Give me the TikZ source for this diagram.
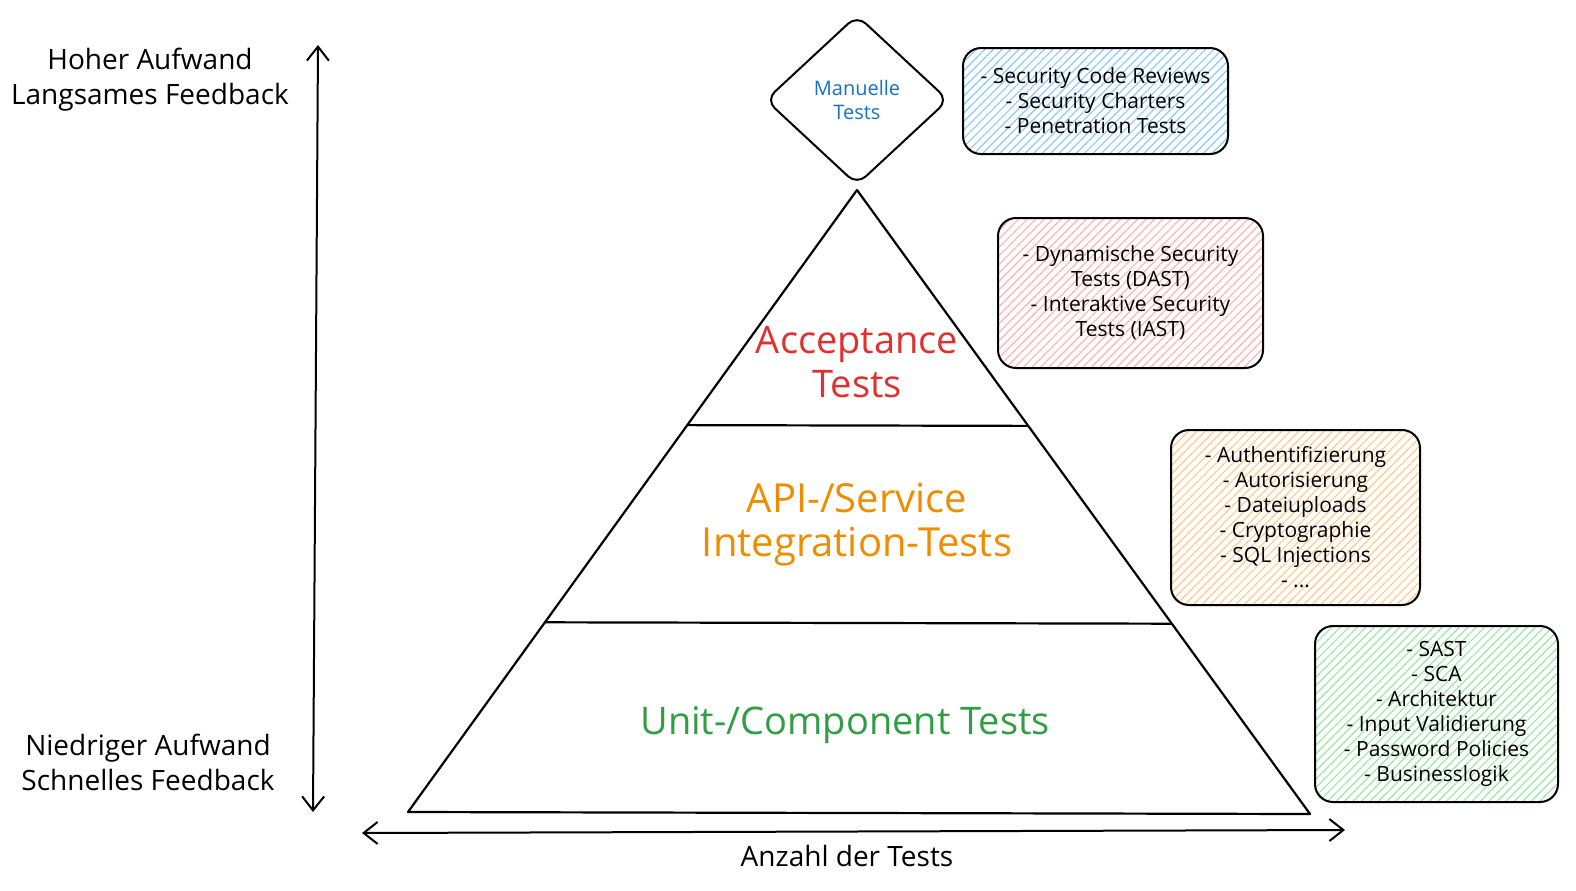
\documentclass[tikz,border=0pt]{standalone}
\usepackage{fontspec}
\setmainfont{Open Sans}
\usetikzlibrary{shapes.geometric, arrows.meta, patterns.meta, calc}
\definecolor{blau}{HTML}{1971C2}
\definecolor{rot}{HTML}{E03131}
\definecolor{orangeton}{HTML}{F08C00}
\definecolor{gruen}{HTML}{2F9E44}
\definecolor{blauhell}{HTML}{8CCBFA}
\definecolor{rosa}{HTML}{FFB3B3}
\definecolor{orangehell}{HTML}{FFCB8C}
\definecolor{gruenhell}{HTML}{9AE8A6}
\begin{document}
\begin{tikzpicture}[x=0.5pt, y=-0.5pt, achse/.style={{Straight Barb[length=7pt, width=11pt]}-{Straight Barb[length=7pt, width=11pt]}, line width=1pt}]
        \tikzset{liste/.style={rectangle, rounded corners=9pt, draw=black, line width=1pt, align=center, font=\fontsize{10.5}{12.5}\selectfont, pattern={Lines[angle=45, distance=3pt, line width=0.6pt]}}};
        \tikzset{stufe/.style={align=center, font=\fontsize{19}{22}\selectfont}};
        \tikzset{hinweis/.style={align=center, font=\fontsize{14}{17.5}\selectfont}};
        \useasboundingbox (0,0) rectangle (1576,890);

        % Pyramide
        \coordinate (spitze) at (857,190);
        \coordinate (links) at (408,812);
        \coordinate (rechts) at (1310,814);
        \draw[line width=1.1pt, line join=round] (spitze) -- (links) -- (rechts) -- cycle;
        \draw[line width=1.1pt] ($(spitze)!0.378!(links)$) -- ($(spitze)!0.378!(rechts)$);
        \draw[line width=1.1pt] ($(spitze)!0.695!(links)$) -- ($(spitze)!0.695!(rechts)$);

        \node[stufe, text=rot] (acc) at (857,362) {Acceptance\\Tests};
        \node[stufe, text=orangeton, font=\fontsize{20}{22}\selectfont] (api) at (857,525) {API-/Service\\Integration-Tests};
        \node[stufe, text=gruen] (unit) at (845,725) {Unit-/Component Tests};

        \node[diamond, draw=black, line width=1pt, rounded corners=6pt, minimum width=91.5pt, minimum height=85pt, inner sep=0pt, align=center, text=blau, font=\fontsize{10}{12}\selectfont] (manuell) at (857,100) {Manuelle\\Tests};

        % Listen
        \node[liste, pattern color=blauhell, minimum width=132.5pt, minimum height=53pt] (l1) at (1095.5,101) {- Security Code Reviews\\- Security Charters\\- Penetration Tests};
        \node[liste, pattern color=rosa, minimum width=132.5pt, minimum height=75pt] (l2) at (1130.5,293) {- Dynamische Security\\Tests (DAST)\\- Interaktive Security\\Tests (IAST)};
        \node[liste, pattern color=orangehell, minimum width=124.5pt, minimum height=87.5pt] (l3) at (1295.5,517.5) {- Authentifizierung\\- Autorisierung\\- Dateiuploads\\- Cryptographie\\- SQL Injections\\- ...};
        \node[liste, pattern color=gruenhell, minimum width=121.5pt, minimum height=88pt] (l4) at (1436.5,714) {- SAST\\- SCA\\- Architektur\\- Input Validierung\\- Password Policies\\- Businesslogik};

        % Achsen
        \coordinate (oben) at (318,45);
        \coordinate (unten) at (313,812);
        \coordinate (anfang) at (362,833);
        \coordinate (ende) at (1345,830);
        \draw[achse] (unten) -- (oben);
        \draw[achse] (anfang) -- (ende);

        \node[hinweis] (hoch) at (150,80) {Hoher Aufwand\\Langsames Feedback};
        \node[hinweis] (tief) at (148,762) {Niedriger Aufwand\\Schnelles Feedback};
        \node[hinweis] (anzahl) at (847,856) {Anzahl der Tests};
    \end{tikzpicture}
\end{document}
